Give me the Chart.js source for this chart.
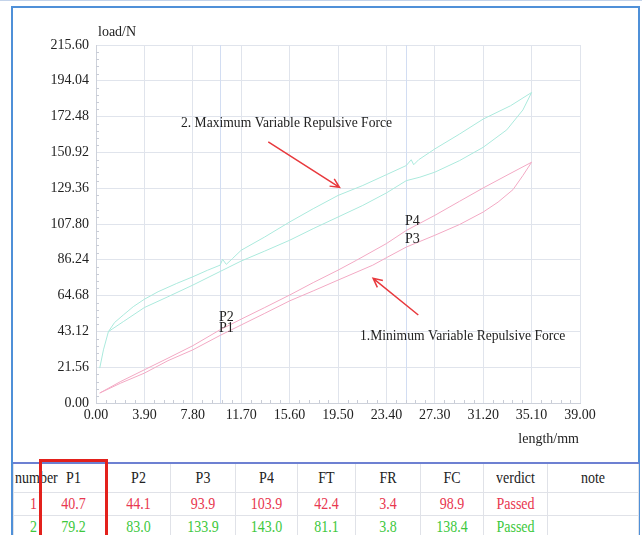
<!DOCTYPE html>
<html>
<head>
<meta charset="utf-8">
<script src="https://cdn.jsdelivr.net/npm/chart.js@4.4.1/dist/chart.umd.min.js"></script>
<style>
  html, body { margin: 0; padding: 0; background: #fff; }
  body { width: 642px; height: 535px; overflow: hidden; position: relative;
         font-family: 'Liberation Serif', 'DejaVu Serif', serif; }
  #topline { position: absolute; left: 0; top: 0; width: 642px; height: 1px; background: #c3d3ea; }
  #frame { position: absolute; left: 11px; top: 6px; width: 625px; height: 600px;
           border: 2px solid #4f90d8; border-bottom: none; }
  #chart { position: absolute; left: 0; top: 0; }
  #results { position: absolute; left: 13px; top: 462px; width: 625px;
             border-collapse: collapse; table-layout: fixed; }
  #results td { border: 1px solid #e0e2e8; padding: 0; font-size: 14px; text-align: center;
                white-space: nowrap; color: #222; }
  #results tr.head td { height: 28px; border-top: 2px solid #6d80d2; }
  #results tr.row td { height: 22px; }
  #results td span { display: inline-block; transform: scaleY(1.25); }
  #results td.num { text-align: right; padding-right: 3px; }
  #results tr.head td.num { text-align: left; padding-left: 1px; padding-right: 0; }
  #mark { position: absolute; left: 39px; top: 459px; width: 63px; height: 120px;
          border: 3px solid #e3211c; border-bottom: none; }
</style>
</head>
<body>
<div id="topline"></div>
<div id="frame"></div>
<canvas id="chart" width="642" height="460"></canvas>
<table id="results"></table>
<div id="mark"></div>
<script>
// Axis ticks
const xTickValues = [0, 3.9, 7.8, 11.7, 15.6, 19.5, 23.4, 27.3, 31.2, 35.1, 39];
const yTickValues = [0, 21.56, 43.12, 64.68, 86.24, 107.8, 129.36, 150.92, 172.48, 194.04, 215.6];

// Measuring positions for P1/P2 and P3/P4 (mm)
const markerLengths = [10, 25];

// 2. Maximum variable repulsive force: loading then unloading
const maxLoadLength = [0.3, 0.6, 1.0, 1.5, 2.2, 3.0, 3.9, 5.0, 6.5, 7.8, 9.0, 10.0, 10.2, 10.5, 11.0, 11.7, 13.6, 15.6, 17.5, 19.5, 21.5, 23.4, 25.0, 25.4, 25.6, 26.0, 27.3, 29.3, 31.2, 33.4, 35.1];
const maxLoadForce  = [21, 32, 43, 48.5, 53, 58, 62.5, 67, 72, 76, 80, 83.0, 86.5, 83.5, 87, 92, 100, 109, 117, 125, 131, 137.5, 143.0, 146.5, 143.5, 146.5, 153, 162, 171, 179, 187];
const maxUnloadLength = [35.1, 34.4, 33.1, 31.2, 29.3, 27.3, 26.1, 25.0, 23.4, 21.5, 19.5, 17.5, 15.6, 13.6, 11.7, 10.0, 7.8, 5.8, 3.9, 2.2, 1.0];
const maxUnloadForce  = [187, 176.5, 164.5, 154, 146, 139, 136, 133.9, 126.5, 119, 112, 105, 98, 91.5, 85.5, 79.2, 71, 64, 57.5, 49, 43];

// 1. Minimum variable repulsive force: loading then unloading
const minLoadLength = [0.3, 2.0, 3.9, 5.8, 7.8, 10.0, 11.7, 13.6, 15.6, 17.5, 19.5, 21.0, 23.4, 25.0, 27.3, 29.3, 31.2, 33.2, 35.1];
const minLoadForce  = [6, 13, 20, 27, 34.5, 44.1, 50.5, 57.5, 65, 72.5, 80, 86, 96, 103.9, 113, 121.5, 129.5, 137.5, 145];
const minUnloadLength = [35.1, 34.4, 33.6, 32.4, 31.2, 29.3, 27.3, 25.0, 23.4, 22.3, 19.5, 17.5, 15.6, 13.6, 11.7, 10.0, 7.8, 5.8, 3.9, 2.0, 0.3];
const minUnloadForce  = [145, 137, 128.5, 121, 115, 107.5, 101, 93.9, 87.5, 83, 74, 67.5, 61.5, 54, 47, 40.7, 32, 25.5, 18, 12, 6];

// Result table
const tableHeaders = ['number', 'P1', 'P2', 'P3', 'P4', 'FT', 'FR', 'FC', 'verdict', 'note'];
const row1 = ['1', '40.7', '44.1', '93.9', '103.9', '42.4', '3.4', '98.9', 'Passed', ''];
const row2 = ['2', '79.2', '83.0', '133.9', '143.0', '81.1', '3.8', '138.4', 'Passed', ''];

const columnWidths = [27, 66, 64, 65, 62, 58, 65, 63, 64, 91];
const rowColors = ['#e8374f', '#3dc83d'];

function buildTable() {
  const table = document.getElementById('results');
  const colgroup = document.createElement('colgroup');
  columnWidths.forEach(w => {
    const c = document.createElement('col');
    c.style.width = w + 'px';
    colgroup.appendChild(c);
  });
  table.appendChild(colgroup);
  const addRow = (cells, cls, color) => {
    const tr = document.createElement('tr');
    tr.className = cls;
    cells.forEach((txt, i) => {
      const td = document.createElement('td');
      if (i === 0) td.className = 'num';
      const s = document.createElement('span');
      s.textContent = txt;
      if (color) s.style.color = color;
      td.appendChild(s);
      tr.appendChild(td);
    });
    table.appendChild(tr);
  };
  addRow(tableHeaders, 'head', null);
  addRow(row1, 'row', rowColors[0]);
  addRow(row2, 'row', rowColors[1]);
}
buildTable();

function toPoints(xs, ys) {
  return xs.map((x, i) => ({ x: x, y: ys[i] }));
}

const maxLoop = toPoints(maxLoadLength.concat(maxUnloadLength), maxLoadForce.concat(maxUnloadForce));
const minLoop = toPoints(minLoadLength.concat(minUnloadLength), minLoadForce.concat(minUnloadForce));

// Annotation placement, in data units
const curveNotes = [
  { text: '2. Maximum Variable Repulsive Force', x: 6.85, y: 168.6, tail: [13.88, 157.3], head: [19.62, 129.9] },
  { text: '1.Minimum Variable Repulsive Force', x: 21.27, y: 40.3, tail: [25.97, 53.0], head: [22.33, 75.1] }
];
const pointNotes = [
  { text: 'P2', x: 9.91, y: 51.8 },
  { text: 'P1', x: 9.91, y: 45.2 },
  { text: 'P4', x: 24.9, y: 109.6 },
  { text: 'P3', x: 24.9, y: 98.8 }
];

const FONT = "'Liberation Serif', 'DejaVu Serif', serif";
const TEXT = '#222';
const GRID = '#e0e4ec';

const decorations = {
  id: 'decorations',
  beforeDatasetsDraw(chart) {
    const { ctx, chartArea: a, scales: { x, y } } = chart;
    ctx.save();
    // measuring position lines
    ctx.strokeStyle = '#d2ddf2';
    ctx.lineWidth = 1;
    markerLengths.forEach(v => {
      const px = Math.round(x.getPixelForValue(v)) + 0.5;
      ctx.beginPath();
      ctx.moveTo(px, a.top);
      ctx.lineTo(px, a.bottom);
      ctx.stroke();
    });
    // minor ticks along both axes
    ctx.strokeStyle = '#c8ccd6';
    for (let i = 0; i < yTickValues.length - 1; i++) {
      const step = (yTickValues[i + 1] - yTickValues[i]) / 5;
      for (let k = 1; k < 5; k++) {
        const py = Math.round(y.getPixelForValue(yTickValues[i] + k * step)) + 0.5;
        ctx.beginPath();
        ctx.moveTo(a.left, py);
        ctx.lineTo(a.left + 3, py);
        ctx.stroke();
      }
    }
    for (let i = 0; i < xTickValues.length - 1; i++) {
      const step = (xTickValues[i + 1] - xTickValues[i]) / 5;
      for (let k = 1; k < 5; k++) {
        const px = Math.round(x.getPixelForValue(xTickValues[i] + k * step)) + 0.5;
        ctx.beginPath();
        ctx.moveTo(px, a.bottom);
        ctx.lineTo(px, a.bottom - 3);
        ctx.stroke();
      }
    }
    ctx.restore();
  },
  afterDatasetsDraw(chart) {
    const { ctx, chartArea: a, scales: { x, y } } = chart;
    ctx.save();
    ctx.fillStyle = TEXT;
    ctx.font = '14px ' + FONT;
    ctx.textBaseline = 'middle';
    // axis titles
    ctx.textAlign = 'left';
    ctx.fillText('load/N', a.left + 2, 32);
    ctx.textAlign = 'right';
    ctx.fillText('length/mm', a.right - 1, 439);
    // P labels
    ctx.textAlign = 'left';
    pointNotes.forEach(n => ctx.fillText(n.text, x.getPixelForValue(n.x), y.getPixelForValue(n.y)));
    // curve notes with arrows
    ctx.font = '13.6px ' + FONT;
    curveNotes.forEach(n => {
      ctx.fillStyle = TEXT;
      ctx.fillText(n.text, x.getPixelForValue(n.x), y.getPixelForValue(n.y));
      const tx = x.getPixelForValue(n.tail[0]), ty = y.getPixelForValue(n.tail[1]);
      const hx = x.getPixelForValue(n.head[0]), hy = y.getPixelForValue(n.head[1]);
      ctx.strokeStyle = '#e8393d';
      ctx.lineWidth = 1.5;
      ctx.beginPath();
      ctx.moveTo(tx, ty);
      ctx.lineTo(hx, hy);
      const ang = Math.atan2(hy - ty, hx - tx);
      const len = 10, spread = 0.45;
      ctx.moveTo(hx - len * Math.cos(ang - spread), hy - len * Math.sin(ang - spread));
      ctx.lineTo(hx, hy);
      ctx.lineTo(hx - len * Math.cos(ang + spread), hy - len * Math.sin(ang + spread));
      ctx.stroke();
    });
    ctx.restore();
  }
};

Chart.defaults.font.family = FONT;
Chart.defaults.font.size = 14;
Chart.defaults.color = TEXT;

new Chart(document.getElementById('chart'), {
  type: 'scatter',
  data: {
    datasets: [
      { label: 'Maximum', data: maxLoop, showLine: true, borderColor: '#abeadd', borderWidth: 1, pointRadius: 0, fill: false },
      { label: 'Minimum', data: minLoop, showLine: true, borderColor: '#f3a9c4', borderWidth: 1, pointRadius: 0, fill: false }
    ]
  },
  options: {
    responsive: false,
    animation: false,
    devicePixelRatio: 1,
    layout: { padding: { left: 0, top: 45, right: 62, bottom: 0 } },
    plugins: { legend: { display: false }, tooltip: { enabled: false } },
    scales: {
      x: {
        type: 'linear', min: 0, max: 39,
        afterBuildTicks: s => { s.ticks = xTickValues.map(v => ({ value: v })); },
        afterFit: s => { s.height = 57; },
        ticks: { padding: 4, maxRotation: 0, autoSkip: false, callback: v => Number(v).toFixed(2) },
        grid: { color: GRID, drawTicks: false },
        border: { color: '#cdd1da' }
      },
      y: {
        type: 'linear', min: 0, max: 215.6,
        afterBuildTicks: s => { s.ticks = yTickValues.map(v => ({ value: v })); },
        afterFit: s => { s.width = 96; },
        ticks: { padding: 7, autoSkip: false, callback: v => Number(v).toFixed(2) },
        grid: { color: GRID, drawTicks: false },
        border: { color: '#cdd1da' }
      }
    }
  },
  plugins: [decorations]
});
</script>
</body>
</html>
